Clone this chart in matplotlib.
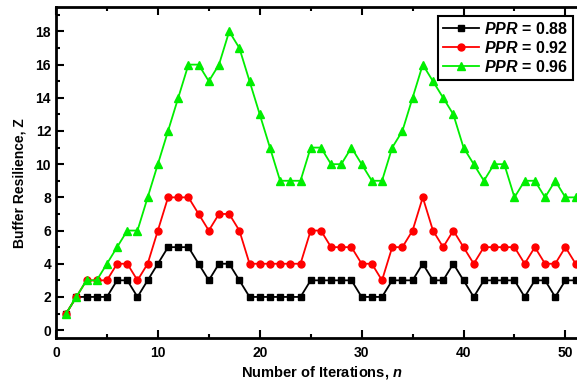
import matplotlib
matplotlib.use("Agg")
import matplotlib.pyplot as plt

n = list(range(1, 52))
z_088 = [1, 2, 2, 2, 2, 3, 3, 2, 3, 4,
         5, 5, 5, 4, 3, 4, 4, 3, 2, 2,
         2, 2, 2, 2, 3, 3, 3, 3, 3, 2,
         2, 2, 3, 3, 3, 4, 3, 3, 4, 3,
         2, 3, 3, 3, 3, 2, 3, 3, 2, 3, 3]
z_092 = [1, 2, 3, 3, 3, 4, 4, 3, 4, 6,
         8, 8, 8, 7, 6, 7, 7, 6, 4, 4,
         4, 4, 4, 4, 6, 6, 5, 5, 5, 4,
         4, 3, 5, 5, 6, 8, 6, 5, 6, 5,
         4, 5, 5, 5, 5, 4, 5, 4, 4, 5, 4]
z_096 = [1, 2, 3, 3, 4, 5, 6, 6, 8, 10,
         12, 14, 16, 16, 15, 16, 18, 17, 15, 13,
         11, 9, 9, 9, 11, 11, 10, 10, 11, 10,
         9, 9, 11, 12, 14, 16, 15, 14, 13, 11,
         10, 9, 10, 10, 8, 9, 9, 8, 9, 8, 8]

plt.rcParams["font.family"] = "Liberation Sans"
plt.rcParams["font.weight"] = "bold"
plt.rcParams["mathtext.fontset"] = "custom"
plt.rcParams["mathtext.it"] = "Liberation Sans:italic:bold"
plt.rcParams["mathtext.rm"] = "Liberation Sans:bold"

fig = plt.figure(figsize=(5.77, 3.85), dpi=100)
# axes runs slightly past the right edge of the picture, as in the original
ax = fig.add_axes([0.097, 0.121, 0.920, 0.862])

ax.plot(n, z_088, "-s", color="black", lw=1.3, ms=4.5, label="$PPR$ = 0.88")
ax.plot(n, z_092, "-o", color="red", lw=1.3, ms=5, label="$PPR$ = 0.92")
ax.plot(n, z_096, "-^", color="#00ee00", lw=1.3, ms=5.5, label="$PPR$ = 0.96")

ax.set_xlim(0, 52.1)
ax.set_ylim(-0.5, 19.5)
ax.set_xticks(range(0, 51, 10))
ax.set_xticks(range(0, 51, 5), minor=True)
ax.set_yticks(range(0, 19, 2))
ax.set_yticks(range(1, 20, 2), minor=True)
ax.tick_params(which="both", direction="in", top=True, right=False,
               width=1.5, labelsize=10)
ax.tick_params(which="major", length=6)
ax.tick_params(which="minor", length=3)
ax.tick_params(axis="x", which="both", pad=5.5)
for s in ax.spines.values():
    s.set_linewidth(2)
ax.spines["right"].set_visible(False)

ax.set_xlabel("Number of Iterations, $n$", fontsize=10.5, fontweight="bold",
              labelpad=3)
ax.set_ylabel("Buffer Resilience, Z", fontsize=10, fontweight="bold")
ax.yaxis.set_label_coords(-0.055, 0.469)

leg = ax.legend(loc="upper right", bbox_to_anchor=(0.9925, 0.959),
                bbox_transform=fig.transFigure, fontsize=11.5,
                fancybox=False, edgecolor="black", framealpha=1,
                borderpad=0.3, labelspacing=0.2, handlelength=2.3,
                handletextpad=0.3, borderaxespad=0)
leg.get_frame().set_linewidth(1.5)

fig.savefig("out.png", dpi=100)
